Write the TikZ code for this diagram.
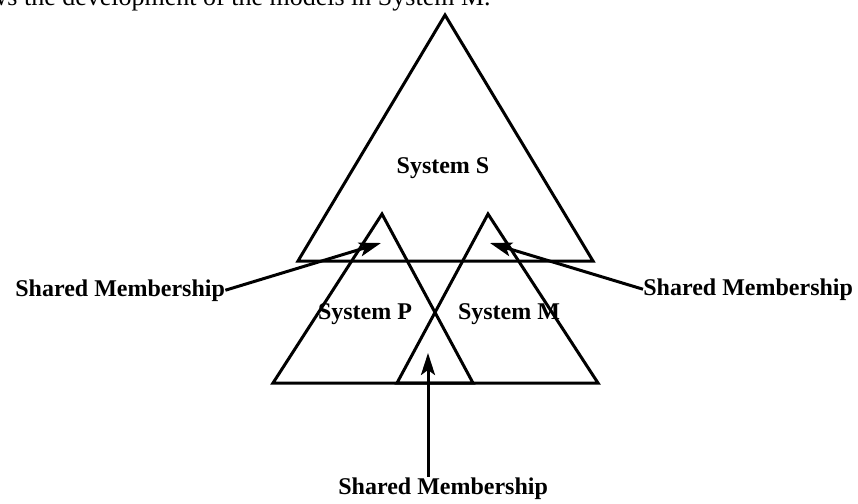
\documentclass[tikz,border=0pt]{standalone}
\usepackage{fontspec}
\setmainfont{Liberation Serif}
\usetikzlibrary{arrows.meta}

\begin{document}
\begin{tikzpicture}[x=0.5pt, y=-0.5pt,
    tri/.style={line width=1.5pt, line join=miter},
    lbl/.style={font=\bfseries\fontsize{12}{14}\selectfont, inner sep=0pt},
    arr/.style={line width=1.5pt, -{Stealth[length=11pt, width=7pt, inset=2.5pt]}}]
    \useasboundingbox (0,0) rectangle (858,504);

    % Caption line above, cut by the page edge
    \node[anchor=base east, inner sep=0pt, font=\fontsize{13}{15}\selectfont] (CAPTION) at (491,5) {follows the development of the models in System M.};

    % System S
    \coordinate (STOP) at (445,15);
    \coordinate (SLEFT) at (298,261);
    \coordinate (SRIGHT) at (593,261);
    \draw[tri] (STOP) -- (SLEFT) -- (SRIGHT) -- cycle;

    % System P and System M
    \coordinate (PTOP) at (382,214);
    \coordinate (PLEFT) at (273,383);
    \coordinate (PRIGHT) at (473,383);
    \coordinate (MTOP) at (488,214);
    \coordinate (MLEFT) at (397,383);
    \coordinate (MRIGHT) at (598,383);
    \draw[tri] (PTOP) -- (PLEFT) -- (PRIGHT) -- cycle;
    \draw[tri] (MTOP) -- (MLEFT) -- (MRIGHT) -- cycle;

    % Labels
    \node[lbl, anchor=base] (SYSS) at (443,173) {System S};
    \node[lbl, anchor=base] (SYSP) at (365,319) {System P};
    \node[lbl, anchor=base] (SYSM) at (509,319) {System M};

    \node[lbl, anchor=base west] (SHAREDL) at (15,296) {Shared Membership};
    \node[lbl, anchor=base west] (SHAREDR) at (643,295) {Shared Membership};
    \node[lbl, anchor=base west] (SHAREDB) at (338,494) {Shared Membership};

    % Arrow tips
    \coordinate (TIPL) at (381,243);
    \coordinate (TIPR) at (490,243);
    \coordinate (TIPB) at (428,353);

    % Connections
    \draw[arr] (SHAREDL.east) -- (TIPL);
    \draw[arr] (SHAREDR.west) -- (TIPR);
    \draw[arr] (SHAREDB.north -| TIPB) -- (TIPB);
\end{tikzpicture}
\end{document}
